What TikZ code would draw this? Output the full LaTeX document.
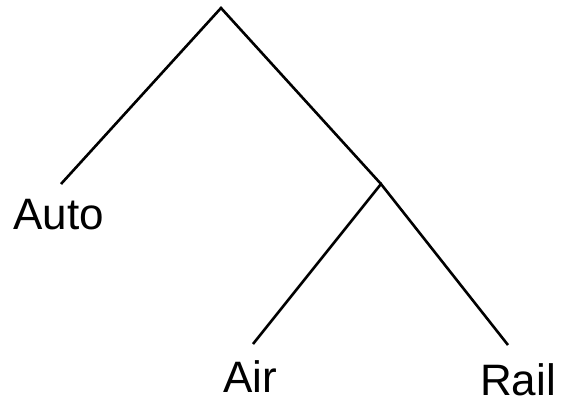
\documentclass[tikz,border=0pt]{standalone}
\usepackage{fontspec}
\setmainfont{Liberation Sans}
\begin{document}
\begin{tikzpicture}[x=1pt, y=-1pt]

    % Riquadro fisso
    \useasboundingbox (0,0) rectangle (566,405);

    % Nodi dell'albero
    \coordinate (Root) at (221,8);
    \coordinate (Branch) at (381,184);
    \coordinate (AutoEnd) at (61,184);
    \coordinate (AirEnd) at (253,344);
    \coordinate (RailEnd) at (508,345);

    % Rami
    \draw[line width=2.6pt] (AutoEnd) -- (Root) -- (Branch);
    \draw[line width=2.6pt] (AirEnd) -- (Branch) -- (RailEnd);

    % Etichette
    \node[anchor=base west, inner sep=0pt, font=\fontsize{44}{48}\selectfont] (Auto) at (13,229) {Auto};
    \node[anchor=base west, inner sep=0pt, font=\fontsize{44}{48}\selectfont] (Air) at (223,392) {Air};
    \node[anchor=base west, inner sep=0pt, font=\fontsize{44}{48}\selectfont] (Rail) at (480,395) {Rail};

\end{tikzpicture}
\end{document}
